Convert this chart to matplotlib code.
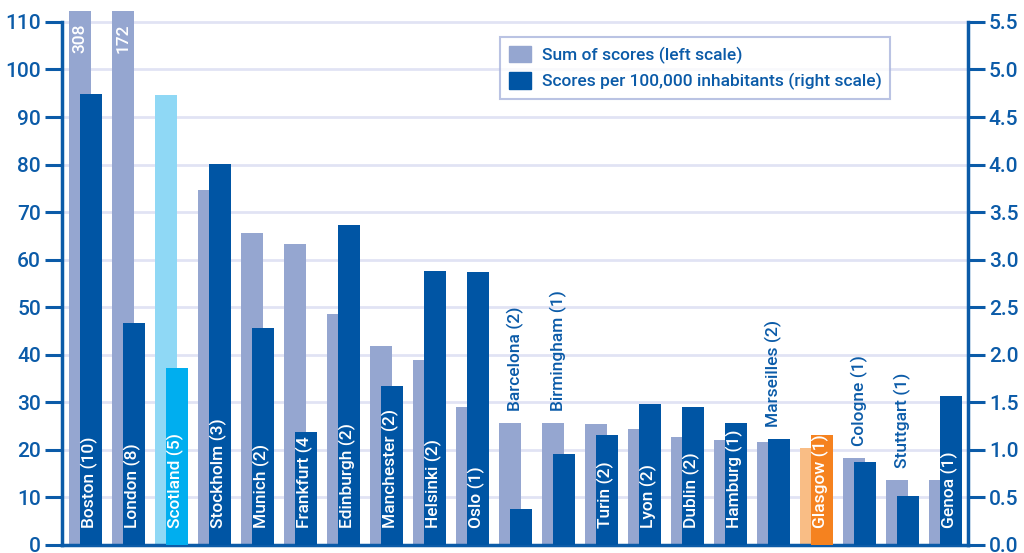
import numpy as np
import matplotlib
matplotlib.use('Agg')
import matplotlib.pyplot as plt
from matplotlib.patches import Patch

plt.rcParams['font.family'] = ['Roboto', 'DejaVu Sans']
plt.rcParams['font.weight'] = 'medium'

# data
cities = ['Boston (10)', 'London (8)', 'Scotland (5)', 'Stockholm (3)', 'Munich (2)',
          'Frankfurt (4', 'Edinburgh (2)', 'Manchester (2)', 'Helsinki (2)', 'Oslo (1)',
          'Barcelona (2)', 'Birmingham (1)', 'Turin (2)', 'Lyon (2)', 'Dublin (2)',
          'Hamburg (1)', 'Marseilles (2)', 'Glasgow (1)', 'Cologne (1)', 'Stuttgart (1)',
          'Genoa (1)']
sum_scores = [308, 172, 94.7, 74.6, 65.6, 63.3, 48.6, 41.9, 39.0, 29.1,
              25.6, 25.6, 25.4, 24.3, 22.8, 22.0, 21.6, 20.3, 18.2, 13.6, 13.6]
per_100k = [4.74, 2.33, 1.86, 4.01, 2.28, 1.19, 3.36, 1.67, 2.88, 2.87,
            0.38, 0.96, 1.16, 1.48, 1.45, 1.28, 1.11, 1.16, 0.87, 0.51, 1.57]
label_above = ['Barcelona (2)', 'Birmingham (1)', 'Marseilles (2)', 'Cologne (1)', 'Stuttgart (1)']
clipped = {'Boston (10)': '308', 'London (8)': '172'}

c_light = '#95a6d0'
c_dark = '#0055a4'
c_text = '#0b5ba8'
c_grid = '#e1e3f4'

light_cols = [c_light] * len(cities)
dark_cols = [c_dark] * len(cities)
light_cols[cities.index('Scotland (5)')] = '#8fd8f5'
dark_cols[cities.index('Scotland (5)')] = '#00aeef'
light_cols[cities.index('Glasgow (1)')] = '#f9bd85'
dark_cols[cities.index('Glasgow (1)')] = '#f5821f'

x = np.arange(len(cities))
w = 0.51
off = 0.128
ytop = 112.2

fig = plt.figure(figsize=(10.24, 5.53), dpi=100)
ax = fig.add_axes([0.0605, 0.0145, 0.8848, 0.9648])
ax2 = ax.twinx()

ax.bar(x - off, sum_scores, width=w, color=light_cols, zorder=2)
ax2.bar(x + off, per_100k, width=w, color=dark_cols, zorder=2)

ax.set_xlim(-0.55, len(cities) - 1 + 0.523)
ax.set_ylim(0, ytop)
ax2.set_ylim(0, ytop / 20)

ax.set_yticks(np.arange(0, 111, 10))
ax2.set_yticks(np.arange(0, 5.51, 0.5))
ax2.set_yticklabels(['%.1f' % v for v in np.arange(0, 5.51, 0.5)])
ax.set_xticks([])

for a in (ax, ax2):
    a.spines['top'].set_visible(False)
    a.tick_params(axis='y', colors=c_text, labelsize=15, length=12, width=2.2, pad=3)
ax.spines['left'].set_bounds(0, 110)
ax2.spines['right'].set_bounds(0, 5.5)
for s in ('left', 'bottom'):
    ax.spines[s].set_color(c_text)
    ax.spines[s].set_linewidth(2.5)
ax.spines['right'].set_visible(False)
ax2.spines['left'].set_visible(False)
ax2.spines['bottom'].set_visible(False)
ax2.spines['right'].set_color(c_text)
ax2.spines['right'].set_linewidth(2.5)

ax.yaxis.grid(True, color=c_grid, linewidth=2, zorder=0)
ax.set_axisbelow(True)

# city labels
for i, name in enumerate(cities):
    if name in label_above:
        top = max(sum_scores[i], per_100k[i] * 20) + 2.6
        ax.text(i, top, name, rotation=90, ha='center', va='bottom',
                color=c_text, fontsize=12.5, zorder=5)
    else:
        ax2.text(i + 0.1, 3.5 / 20, name, rotation=90, ha='center', va='bottom',
                 color='white', fontsize=12.5, zorder=5)
    if name in clipped:
        ax2.text(i - off, 109.6 / 20, clipped[name], rotation=90, ha='center', va='top',
                 color='white', fontsize=12.5, zorder=5)

handles = [Patch(color=c_light), Patch(color=c_dark)]
leg = ax2.legend(handles, ['Sum of scores (left scale)', 'Scores per 100,000 inhabitants (right scale)'],
                 loc='upper left', bbox_to_anchor=(0.4834, 0.952), fontsize=12.5,
                 frameon=True, fancybox=False, handlelength=1.3, handleheight=1.1,
                 borderpad=0.5, labelspacing=0.5, handletextpad=0.6, borderaxespad=0)
leg.get_frame().set_edgecolor('#a9b4dc')
leg.get_frame().set_linewidth(1.5)
for t in leg.get_texts():
    t.set_color(c_text)

fig.savefig('out.png', dpi=100)
